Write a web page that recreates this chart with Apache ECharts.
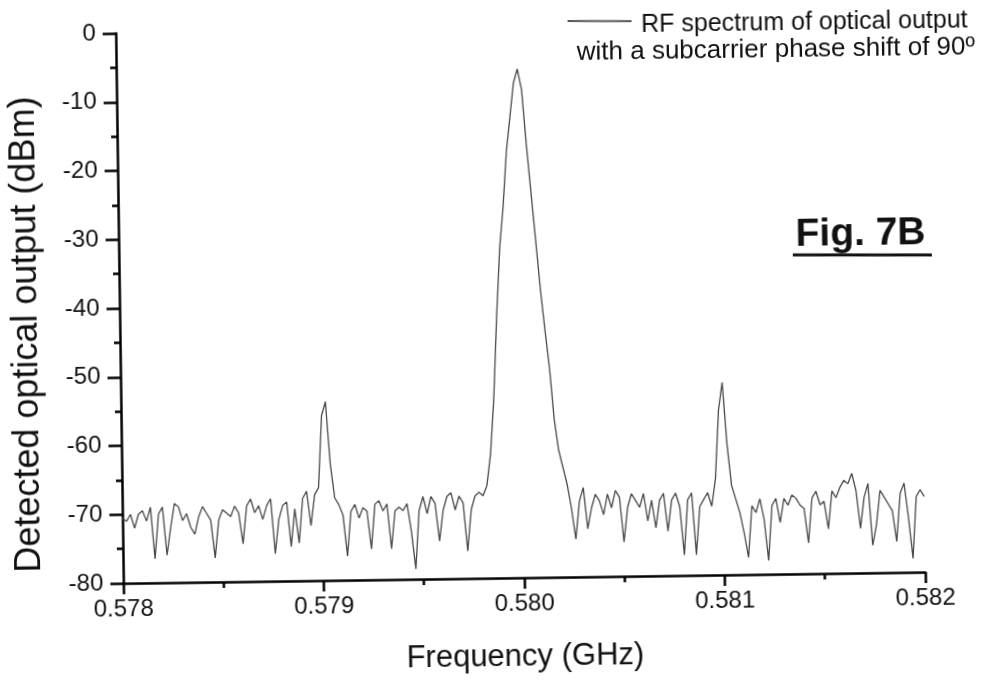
<!DOCTYPE html>
<html>
<head>
<meta charset="utf-8">
<script src="https://cdn.jsdelivr.net/npm/echarts@6/dist/echarts.min.js"></script>
<style>
  html, body { margin: 0; padding: 0; background: #fff; overflow: hidden; }
  /* the scanned figure sits slightly tilted */
  #main { width: 1001px; height: 680px; transform: rotate(-0.8deg); transform-origin: 500.5px 340px; }
</style>
</head>
<body>
<div id="main"></div>
<script>
// frequency grid of the analyser trace (GHz)
var freqStart = 0.578;
var freqStep = 0.00002;
// detected level for each frequency point (dBm)
var levels = [
  -70.5, -71, -70, -72, -70, -69.5, -71, -69, -76.5, -70,
  -69, -76, -72, -68.5, -69, -71, -70, -72, -73, -70.5,
  -69, -70, -71, -76.5, -71, -69.5, -70, -70.5, -69, -70,
  -74.5, -69, -68, -70, -69, -71, -69, -68, -76, -71,
  -69, -68.5, -75, -69.5, -74.5, -68, -67, -72, -67.5, -66.5,
  -56, -54, -63, -68, -69, -70.5, -76.5, -70, -69, -71,
  -69.5, -70, -75.5, -69, -68.5, -70, -69, -75.5, -70, -69.5,
  -70, -69, -73, -78.5, -70, -68, -70.5, -68, -69, -74.5,
  -70, -68, -67.5, -70, -68, -69, -76, -70, -68, -67.5,
  -68, -66.5, -62, -54, -42, -32, -26, -18, -13, -8,
  -6, -9, -17, -24, -31, -38, -44, -49.5, -57, -61.5,
  -64, -66.5, -70, -74.5, -69, -67, -73, -70, -68, -69,
  -71, -68, -70, -67.5, -68.5, -75, -70, -68, -69, -70,
  -68, -72, -69, -73, -69, -68, -73.5, -69, -68, -70,
  -77, -69, -68, -77, -70, -69, -68, -70, -66, -56,
  -52, -61, -67, -69, -71, -74, -77.5, -70, -71, -69,
  -72, -78, -70, -69, -72.5, -69, -70, -68.5, -69, -70,
  -70.5, -75.5, -69, -68, -70, -69.5, -73.5, -68, -69, -67.5,
  -66.5, -67, -65.5, -68, -73.5, -69, -67, -76, -73, -68,
  -69, -70, -71, -75.5, -68.5, -67, -72, -78, -69, -68,
  -69
];
var seriesName = 'RF spectrum of optical output';
var legendLines = ['RF spectrum of optical output', 'with a subcarrier phase shift of 90º'];
var xTitle = 'Frequency (GHz)';
var yTitle = 'Detected optical output (dBm)';
var figLabel = 'Fig. 7B';

var trace = levels.map(function (v, i) {
  return [+(freqStart + i * freqStep).toFixed(5), v];
});

var myChart = echarts.init(document.getElementById('main'));
var font = 'Liberation Sans, Arial, sans-serif';
var tickStyle = { color: '#000', width: 2.5 };
var option = {
  animation: false,
  backgroundColor: '#fff',
  grid: { left: 120, right: 79, top: 28, bottom: 102 },
  xAxis: {
    type: 'value',
    min: 0.578,
    max: 0.582,
    interval: 0.001,
    name: xTitle,
    nameLocation: 'middle',
    nameGap: 64,
    nameTextStyle: { fontFamily: font, fontSize: 31, color: '#111' },
    axisLine: { onZero: false, lineStyle: tickStyle },
    axisTick: { length: 11, lineStyle: tickStyle },
    minorTick: { show: true, splitNumber: 2, length: 6, lineStyle: tickStyle },
    splitLine: { show: false },
    axisLabel: {
      fontFamily: font, fontSize: 24, color: '#111', margin: 14,
      formatter: function (v) { return v.toFixed(3); }
    }
  },
  yAxis: {
    type: 'value',
    min: -80,
    max: 0,
    interval: 10,
    axisLine: { show: true, onZero: false, lineStyle: tickStyle },
    axisTick: { show: true, length: 13, lineStyle: tickStyle },
    minorTick: { show: true, splitNumber: 2, length: 6, lineStyle: tickStyle },
    splitLine: { show: false },
    axisLabel: { fontFamily: font, fontSize: 24, color: '#111', margin: 20 }
  },
  series: [{
    name: seriesName,
    type: 'line',
    data: trace,
    symbol: 'none',
    lineStyle: { color: '#484848', width: 1.3 }
  }],
  graphic: [
    { type: 'line', shape: { x1: 572, y1: 22, x2: 636, y2: 23 }, style: { stroke: '#555', lineWidth: 2 } },
    { type: 'text', x: 972, y: 27, style: { text: legendLines[0], font: '25px ' + font, fill: '#111', align: 'right', verticalAlign: 'middle' } },
    { type: 'text', x: 979, y: 54, style: { text: legendLines[1], font: '26px ' + font, fill: '#111', align: 'right', verticalAlign: 'middle' } },
    { type: 'text', x: 797, y: 239, style: { text: figLabel, font: 'bold 39px ' + font, fill: '#111', align: 'left', verticalAlign: 'middle' } },
    { type: 'line', shape: { x1: 794, y1: 259, x2: 933, y2: 261 }, style: { stroke: '#111', lineWidth: 3 } },
    { type: 'text', x: 27, y: 328, rotation: Math.PI / 2, style: { text: yTitle, font: '36px ' + font, fill: '#111', align: 'center', verticalAlign: 'middle' } }
  ]
};
myChart.setOption(option);
</script>
</body>
</html>
